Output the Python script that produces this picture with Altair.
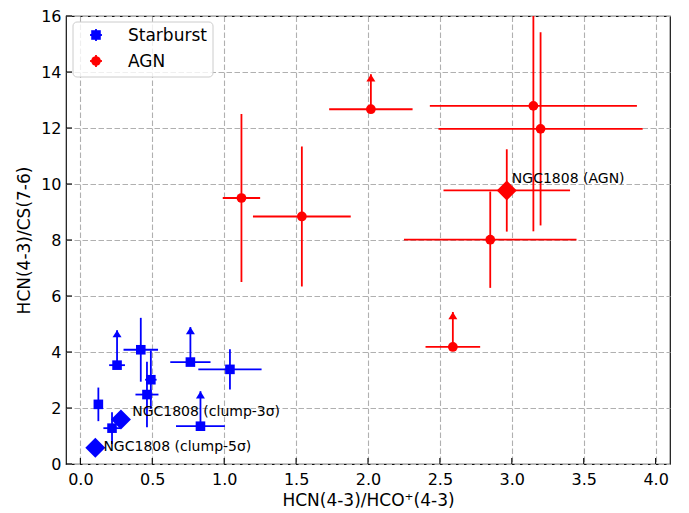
import altair as alt
import pandas as pd

# ---------------- data ----------------
sb_x = [0.125, 0.255, 0.42, 0.49, 0.463, 0.765, 1.04, 0.835, 0.22]
sb_y = [2.13, 3.53, 4.08, 3.01, 2.48, 3.64, 3.38, 1.35, 1.28]
sb_xerr = [0.02, 0.055, 0.12, 0.04, 0.08, 0.14, 0.22, 0.17, 0.06]
sb_yerr = [0.6, 1.25, 1.14, 1.04, 1.17, 1.25, 0.72, 1.25, 0.57]
sb_lim = [False, True, False, False, False, True, False, True, False]

agn_x = [1.12, 1.54, 2.02, 2.59, 3.15, 3.20, 2.85]
agn_y = [9.50, 8.84, 12.67, 4.18, 12.79, 11.97, 8.01]
agn_xerr = [0.13, 0.34, 0.29, 0.19, 0.72, 0.71, 0.60]
agn_yerr = [3.0, 2.5, 1.25, 1.25, 4.48, 3.45, 1.72]
agn_lim = [False, False, True, True, False, False, False]

ngc_group = ["AGN", "Starburst", "Starburst"]
ngc_x = [2.965, 0.282, 0.104]
ngc_y = [9.77, 1.59, 0.58]
ngc_xerr = [0.44, 0.0, 0.0]
ngc_yerr = [1.47, 0.0, 0.0]
ngc_label = ["NGC1808 (AGN)", "NGC1808 (clump-3σ)", "NGC1808 (clump-5σ)"]
ngc_label_x = [3.0, 0.36, 0.16]
ngc_label_y = [10.05, 1.70, 0.46]

x_ticks = [0.0, 0.5, 1.0, 1.5, 2.0, 2.5, 3.0, 3.5, 4.0]
y_ticks = [0, 2, 4, 6, 8, 10, 12, 14, 16]

groups = ["Starburst", "AGN"]
colors = ["#0000ff", "#ff0000"]

W, H = 604, 448
FONT = "DejaVu Sans"

# ---------------- tables ----------------
sb = pd.DataFrame({"x": sb_x, "y": sb_y, "xerr": sb_xerr, "yerr": sb_yerr,
                   "lim": sb_lim, "group": "Starburst"})
agn = pd.DataFrame({"x": agn_x, "y": agn_y, "xerr": agn_xerr, "yerr": agn_yerr,
                    "lim": agn_lim, "group": "AGN"})
ngc = pd.DataFrame({"x": ngc_x, "y": ngc_y, "xerr": ngc_xerr, "yerr": ngc_yerr,
                    "lim": False, "group": ngc_group, "label": ngc_label,
                    "lx": ngc_label_x, "ly": ngc_label_y})
allpts = pd.concat([sb, agn, ngc[["x", "y", "xerr", "yerr", "lim", "group"]]],
                   ignore_index=True)

xscale = alt.Scale(domain=[-0.1, 4.1], nice=False, zero=False)
yscale = alt.Scale(domain=[0, 16], nice=False, zero=False)
cscale = alt.Scale(domain=groups, range=colors)

x_axis = alt.Axis(values=x_ticks, format=".1f", title="HCN(4-3)/HCO⁺(4-3)")
y_axis = alt.Axis(values=y_ticks, format="d", title="HCN(4-3)/CS(7-6)")
X = alt.X("x:Q", scale=xscale, axis=x_axis)
Y = alt.Y("y:Q", scale=yscale, axis=y_axis)
C = alt.Color("group:N", scale=cscale, legend=None)

base = alt.Chart(allpts)

xerr_rules = base.mark_rule(strokeWidth=1.8, clip=True).transform_filter(
    "datum.xerr > 0").transform_calculate(
    x0="datum.x - datum.xerr", x1="datum.x + datum.xerr").encode(
    x=alt.X("x0:Q", scale=xscale, axis=x_axis), x2="x1:Q", y=Y, color=C)

yerr_rules = base.mark_rule(strokeWidth=1.8, clip=True).transform_filter(
    "!datum.lim && datum.yerr > 0").transform_calculate(
    y0="datum.y - datum.yerr", y1="datum.y + datum.yerr").encode(
    x=X, y=alt.Y("y0:Q", scale=yscale, axis=y_axis), y2="y1:Q", color=C)

arrow_rules = base.mark_rule(strokeWidth=1.8, clip=True).transform_filter(
    "datum.lim").transform_calculate(y1="datum.y + datum.yerr").encode(
    x=X, y=Y, y2="y1:Q", color=C)

arrow_heads = base.mark_point(shape="M0,0L-1,1.6L1,1.6Z", size=81, filled=True,
                              opacity=1, strokeWidth=0).transform_filter(
    "datum.lim").transform_calculate(ytop="datum.y + datum.yerr").encode(
    x=X, y=alt.Y("ytop:Q", scale=yscale), color=C)

sb_pts = alt.Chart(sb).mark_point(shape="square", size=92, filled=True, opacity=1,
                                  strokeWidth=0).encode(x=X, y=Y, color=C)
agn_pts = alt.Chart(agn).mark_point(shape="circle", size=95, filled=True, opacity=1,
                                    strokeWidth=0).encode(x=X, y=Y, color=C)
ngc_pts = alt.Chart(ngc).mark_point(shape="diamond", size=400, filled=True, opacity=1,
                                    strokeWidth=0).encode(x=X, y=Y, color=C)
ngc_txt = alt.Chart(ngc).mark_text(align="left", baseline="alphabetic", font=FONT,
                                   fontSize=14, color="black").encode(
    x=alt.X("lx:Q", scale=xscale), y=alt.Y("ly:Q", scale=yscale), text="label:N")

# inward tick marks
xt = alt.Chart(pd.DataFrame({"t": x_ticks})).mark_rule(color="black", strokeWidth=1.1).encode(
    x=alt.X("t:Q", scale=xscale), y=alt.value(H), y2=alt.value(H - 6))
yt = alt.Chart(pd.DataFrame({"t": y_ticks})).mark_rule(color="black", strokeWidth=1.1).encode(
    y=alt.Y("t:Q", scale=yscale), x=alt.value(0), x2=alt.value(6))

# legend (drawn by hand to show the error-bar glyphs)
one = pd.DataFrame({"a": [0]})
leg_box = alt.Chart(one).mark_rect(fill="white", fillOpacity=0.8, stroke="#cccccc",
                                   strokeWidth=1, cornerRadius=4).encode(
    x=alt.value(7), x2=alt.value(147), y=alt.value(6), y2=alt.value(61))

leg_layers = []
for name, col, shp, sz, yy in [("Starburst", colors[0], "square", 92, 19),
                               ("AGN", colors[1], "circle", 95, 45)]:
    leg_layers.append(alt.Chart(one).mark_rule(color=col, strokeWidth=1.8).encode(
        x=alt.value(24), x2=alt.value(36), y=alt.value(yy)))
    leg_layers.append(alt.Chart(one).mark_rule(color=col, strokeWidth=1.8).encode(
        x=alt.value(30), y=alt.value(yy - 6), y2=alt.value(yy + 6)))
    leg_layers.append(alt.Chart(one).mark_point(shape=shp, size=sz, filled=True, opacity=1,
                                                strokeWidth=0, color=col).encode(
        x=alt.value(30), y=alt.value(yy)))
    leg_layers.append(alt.Chart(one).mark_text(align="left", baseline="middle", font=FONT,
                                               fontSize=17, color="black", text=name).encode(
        x=alt.value(62), y=alt.value(yy + 1)))

chart = alt.layer(
    xerr_rules, yerr_rules, arrow_rules, arrow_heads,
    sb_pts, agn_pts, ngc_pts, ngc_txt, xt, yt, leg_box, *leg_layers
).properties(
    width=W, height=H,
    autosize=alt.AutoSizeParams(type="none"),
    padding={"left": 58, "top": 8, "right": 11, "bottom": 49},
).configure_view(
    stroke="#111111", strokeWidth=1.2
).configure_axis(
    labelFont=FONT, titleFont=FONT, labelFontSize=16, titleFontSize=17,
    titleFontWeight="normal", labelColor="black", titleColor="black",
    domain=False, ticks=False, tickSize=0,
    grid=True, gridColor="#b0b0b0", gridDash=[5.5, 2.5], gridWidth=1.1,
).configure_axisX(
    labelPadding=7, titlePadding=5,
).configure_axisY(
    labelPadding=5, titlePadding=7,
)

chart.save("out.html", embed_options={"renderer": "svg", "actions": False})
